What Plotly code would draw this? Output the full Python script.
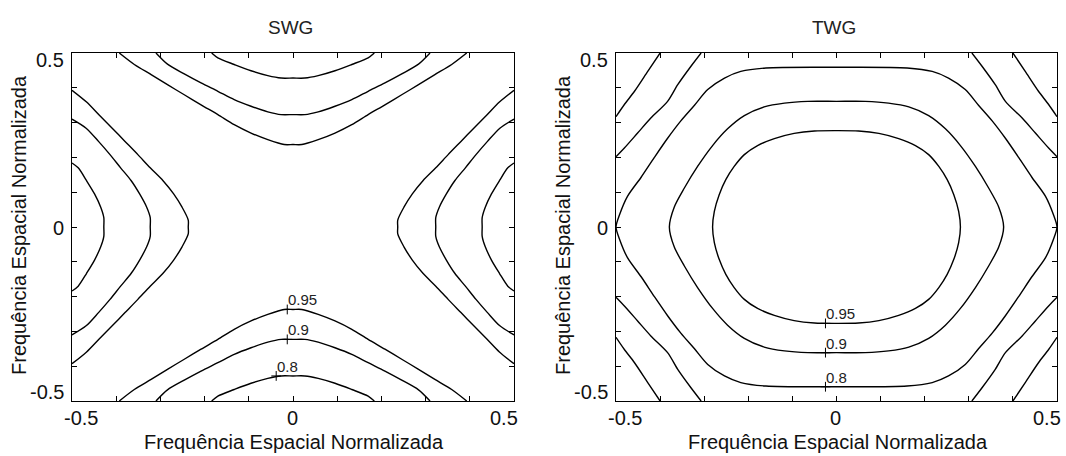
import plotly.graph_objects as go

# ---------------------------------------------------------------------------
# Contour levels and tick labels
# ---------------------------------------------------------------------------
levels = [0.95, 0.9, 0.8]
tick_vals = [-0.5, -0.4, -0.3, -0.2, -0.1, 0.0, 0.1, 0.2, 0.3, 0.4, 0.5]
tick_text = ["-0.5", "", "", "", "", "0", "", "", "", "", "0.5"]

# ---------------------------------------------------------------------------
# SWG: upper branch of each level, from x = 0 outwards (x >= 0 half)
# ---------------------------------------------------------------------------
swg_095_x = [0.0, 0.02, 0.057, 0.095, 0.133, 0.170, 0.208, 0.246, 0.284, 0.321, 0.359, 0.393]
swg_095_y = [0.237, 0.237, 0.251, 0.270, 0.294, 0.323, 0.351, 0.380, 0.409, 0.438, 0.467, 0.5]
swg_090_x = [0.0, 0.027, 0.057, 0.095, 0.133, 0.170, 0.208, 0.246, 0.284, 0.310]
swg_090_y = [0.323, 0.323, 0.331, 0.347, 0.366, 0.390, 0.414, 0.440, 0.468, 0.5]
swg_080_x = [0.0, 0.027, 0.057, 0.095, 0.133, 0.170, 0.184]
swg_080_y = [0.428, 0.428, 0.435, 0.449, 0.467, 0.486, 0.5]

# ---------------------------------------------------------------------------
# TWG: first-quadrant arc of each closed level, top (x = 0) to right vertex (y = 0)
# ---------------------------------------------------------------------------
twg_095_x = [0.0, 0.050, 0.096, 0.141, 0.179, 0.209, 0.232, 0.251, 0.266, 0.277, 0.281]
twg_095_y = [0.277, 0.276, 0.269, 0.254, 0.234, 0.208, 0.174, 0.136, 0.093, 0.045, 0.0]
twg_090_x = [0.0, 0.065, 0.118, 0.164, 0.209, 0.247, 0.281, 0.315, 0.345, 0.368, 0.379]
twg_090_y = [0.361, 0.361, 0.356, 0.345, 0.320, 0.282, 0.234, 0.174, 0.112, 0.057, 0.0]
twg_080_x = [0.0, 0.160, 0.217, 0.254, 0.292, 0.322, 0.353, 0.383, 0.413, 0.443, 0.474, 0.492, 0.5]
twg_080_y = [0.459, 0.457, 0.447, 0.428, 0.395, 0.350, 0.305, 0.255, 0.200, 0.143, 0.088, 0.035, 0.0]

# TWG corner contours (upper-right corner, top edge to right edge)
twg_corner_a_x = [0.307, 0.330, 0.360, 0.383, 0.421, 0.451, 0.481, 0.5]
twg_corner_a_y = [0.5, 0.462, 0.409, 0.361, 0.313, 0.270, 0.227, 0.202]
twg_corner_b_x = [0.400, 0.428, 0.458, 0.481, 0.5]
twg_corner_b_y = [0.5, 0.447, 0.390, 0.352, 0.317]

# Contour-label anchor x positions (on the lower branch of each level)
swg_label_x = [-0.013, -0.013, -0.038]
twg_label_x = [-0.025, -0.025, -0.025]

FONT = "Liberation Sans, Arial, sans-serif"
INK = "#111111"
LINE = dict(color="black", width=1.4, shape="spline", smoothing=0.8)

fig = go.Figure()


def add_line(xs, ys, xa, ya):
    fig.add_trace(go.Scatter(x=xs, y=ys, mode="lines", line=LINE,
                             xaxis=xa, yaxis=ya, showlegend=False,
                             hoverinfo="skip"))


def full_branch(xs, ys):
    bx = [-v for v in reversed(xs)] + xs[1:]
    by = list(reversed(ys)) + ys[1:]
    return bx, by


# SWG: four symmetric branches per level
swg_sets = [(swg_095_x, swg_095_y), (swg_090_x, swg_090_y), (swg_080_x, swg_080_y)]
for hx, hy in swg_sets:
    bx, by = full_branch(hx, hy)
    add_line(bx, by, "x", "y")                      # top
    add_line(bx, [-v for v in by], "x", "y")        # bottom
    add_line(by, bx, "x", "y")                      # right
    add_line([-v for v in by], bx, "x", "y")        # left


def closed_loop(qx, qy):
    lx = (qx + qx[::-1][1:] + [-v for v in qx][1:] + [-v for v in qx[::-1]][1:])
    ly = (qy + [-v for v in qy[::-1]][1:] + [-v for v in qy][1:] + qy[::-1][1:])
    return lx, ly


twg_sets = [(twg_095_x, twg_095_y), (twg_090_x, twg_090_y), (twg_080_x, twg_080_y)]
for qx, qy in twg_sets:
    lx, ly = closed_loop(qx, qy)
    add_line(lx, ly, "x2", "y2")

for cx, cy in [(twg_corner_a_x, twg_corner_a_y), (twg_corner_b_x, twg_corner_b_y)]:
    for sx in (1, -1):
        for sy in (1, -1):
            add_line([sx * v for v in cx], [sy * v for v in cy], "x2", "y2")

# Contour labels with "+" markers on the lower branch
annotations = []
label_groups = [
    ("x", "y", swg_label_x, [-s[1][0] for s in swg_sets]),
    ("x2", "y2", twg_label_x, [-s[1][0] for s in twg_sets]),
]
for xa, ya, lxs, lys in label_groups:
    fig.add_trace(go.Scatter(x=lxs, y=lys, mode="markers",
                             marker=dict(symbol="cross-thin", size=7,
                                         line=dict(color="black", width=1)),
                             xaxis=xa, yaxis=ya, showlegend=False,
                             hoverinfo="skip"))
    for lev, lx, ly in zip(levels, lxs, lys):
        annotations.append(dict(x=lx, y=ly, xref=xa, yref=ya, text=f"{lev:g}",
                                showarrow=False, xanchor="left", yanchor="bottom",
                                xshift=-1, yshift=-1,
                                font=dict(family=FONT, size=15, color="#222222")))

# Panel titles, axis titles and tick labels
W, H = 1066, 456
panels = [("SWG", "x", "y", 72, 514), ("TWG", "x2", "y2", 616, 1057)]
tick_font = dict(family=FONT, size=20, color=INK)
for title, xa, ya, x0, x1 in panels:
    cx = (x0 + x1) / 2
    annotations.append(dict(x=(cx - 3) / W, y=1 - 27.5 / H, xref="paper", yref="paper",
                            text=title, showarrow=False, xanchor="center",
                            yanchor="middle",
                            font=dict(family=FONT, size=19, color="#222222")))
    annotations.append(dict(x=(cx + 1) / W, y=1 - 442 / H, xref="paper", yref="paper",
                            text="Frequência Espacial Normalizada", showarrow=False,
                            xanchor="center", yanchor="middle",
                            font=dict(family=FONT, size=20, color=INK)))
    annotations.append(dict(x=(x0 - 53) / W, y=1 - 225 / H, xref="paper", yref="paper",
                            text="Frequência Espacial Normalizada", showarrow=False,
                            textangle=-90, xanchor="center", yanchor="middle",
                            font=dict(family=FONT, size=20, color=INK)))
    # end labels sit slightly inside the frame corners
    for v, t in zip(tick_vals, tick_text):
        if not t:
            continue
        xs = 9 if v == -0.5 else (-10 if v == 0.5 else -1)
        ys = -7 if v == 0.5 else (9 if v == -0.5 else -1)
        annotations.append(dict(x=v, xref=xa, y=1 - 418 / H, yref="paper", text=t,
                                showarrow=False, xanchor="center", yanchor="middle",
                                xshift=xs, font=tick_font))
        annotations.append(dict(x=(x0 - 6) / W, xref="paper", y=v, yref=ya, text=t,
                                showarrow=False, xanchor="right", yanchor="middle",
                                yshift=ys, font=tick_font))

axis_common = dict(range=[-0.5, 0.5], showgrid=False, zeroline=False,
                   showline=True, linecolor="black", linewidth=1,
                   mirror="allticks", ticks="inside", ticklen=5, tickwidth=1,
                   tickcolor="black", tickvals=tick_vals, showticklabels=False,
                   fixedrange=True, automargin=False)

ydom = [(H - 401) / H, (H - 53) / H]
fig.update_layout(
    width=W, height=H,
    margin=dict(l=0, r=0, t=0, b=0, autoexpand=False),
    paper_bgcolor="white", plot_bgcolor="white",
    showlegend=False,
    xaxis=dict(domain=[72 / W, 514 / W], anchor="y", **axis_common),
    yaxis=dict(domain=ydom, anchor="x", **axis_common),
    xaxis2=dict(domain=[616 / W, 1057 / W], anchor="y2", **axis_common),
    yaxis2=dict(domain=ydom, anchor="x2", **axis_common),
    annotations=annotations,
)

fig.write_html("out.html")
